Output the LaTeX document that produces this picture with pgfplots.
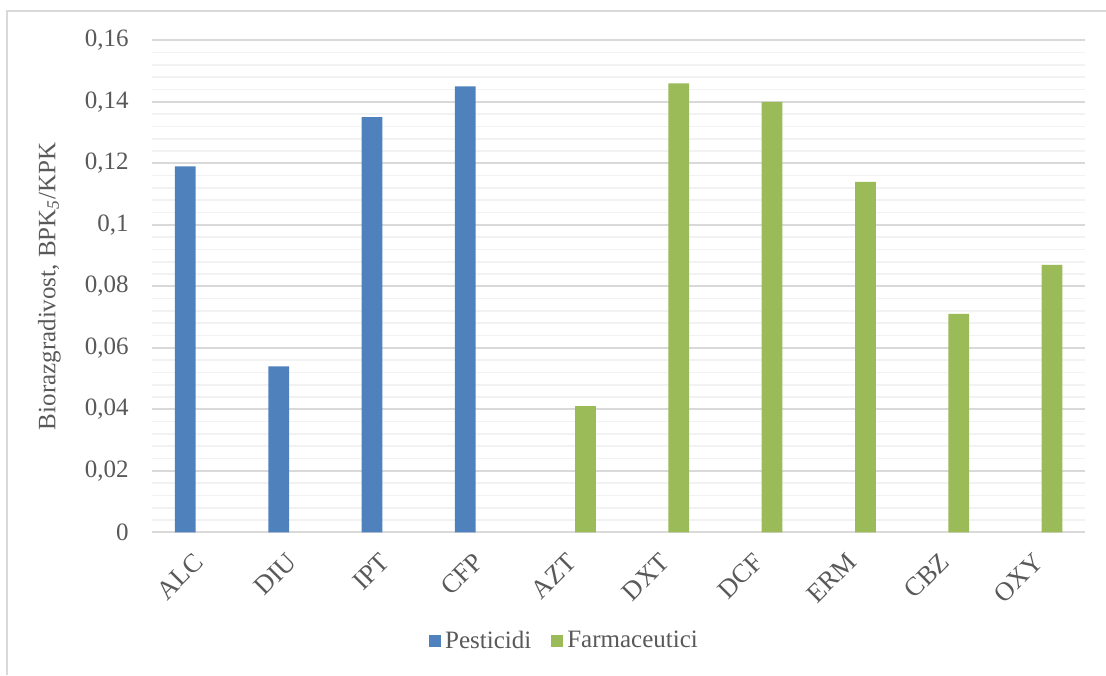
\documentclass[border=0pt]{standalone}
\usepackage{pgfplots}
\pgfplotsset{compat=1.18}
\usepackage{fontspec}
\setmainfont{Liberation Serif}

\definecolor{pestblue}{HTML}{4F81BD}
\definecolor{farmgreen}{HTML}{9BBB59}
\definecolor{txtgray}{HTML}{595959}
\definecolor{majgrid}{HTML}{D9D9D9}
\definecolor{mingrid}{HTML}{F2F2F2}

\begin{document}
\begin{tikzpicture}
  % picture frame: 1106 x 675 px at 0.5pt per px
  \path[use as bounding box, fill=white] (0,0) rectangle (553pt,-337.5pt);
  \draw[majgrid, line width=0.75pt] (3.5pt,-337.5pt) -- (3.5pt,-5.5pt) -- (553pt,-5.5pt);

  \begin{axis}[
    at={(76pt,-266.15pt)}, anchor=south west,
    scale only axis,
    width=466.7pt, height=246pt,
    xmin=-0.5, xmax=9.5,
    ymin=0, ymax=0.16,
    xtick={0,...,9},
    xticklabels={ALC,DIU,IPT,CFP,AZT,DXT,DCF,ERM,CBZ,OXY},
    ytick={0,0.02,0.04,0.06,0.08,0.1,0.12,0.14,0.16},
    minor y tick num=4,
    ymajorgrids, yminorgrids,
    major grid style={draw=majgrid, line width=1pt},
    minor grid style={draw=mingrid, line width=0.8pt},
    axis x line*=bottom, axis y line*=left,
    axis line style={-},
    x axis line style={draw=majgrid, line width=1pt},
    y axis line style={draw=none},
    major tick length=0pt, minor tick length=0pt,
    tick style={draw=none},
    ticklabel style={font=\fontsize{12.5}{14}\selectfont, text=txtgray},
    xticklabel style={rotate=45, anchor=east, inner sep=0pt,
      font=\fontsize{13.2}{15}\selectfont},
    xticklabel shift=12.5pt,
    yticklabel style={anchor=east, inner sep=0pt},
    yticklabel shift=11.5pt,
    /pgf/number format/.cd, use comma, fixed, precision=2, assume math mode=true,
    /pgfplots/.cd,
    ylabel={Biorazgradivost, BPK\textsubscript{\textit{5}}/KPK},
    ylabel style={at={(axis description cs:-0.11,0.5)}, anchor=center, rotate=0,
      font=\fontsize{12.5}{14}\selectfont, text=txtgray},
    legend columns=2,
    legend style={at={(axis description cs:0.443,-0.221)}, anchor=center,
      draw=none, fill=none, font=\fontsize{12.5}{14}\selectfont, text=txtgray,
      /tikz/every even column/.append style={column sep=8pt}},
  ]
    \addplot[ybar, bar width=0.222, bar shift=-0.143, fill=pestblue, draw=none,
      legend image code/.code={\fill[pestblue] (0pt,-3pt) rectangle (6pt,3pt);}]
      coordinates {(0,0.119) (1,0.054) (2,0.135) (3,0.145)};
    \addlegendentry{Pesticidi}
    \addplot[ybar, bar width=0.222, bar shift=0.143, fill=farmgreen, draw=none,
      legend image code/.code={\fill[farmgreen] (0pt,-3pt) rectangle (6pt,3pt);}]
      coordinates {(4,0.041) (5,0.146) (6,0.140) (7,0.114) (8,0.071) (9,0.087)};
    \addlegendentry{Farmaceutici}
  \end{axis}
\end{tikzpicture}
\end{document}
